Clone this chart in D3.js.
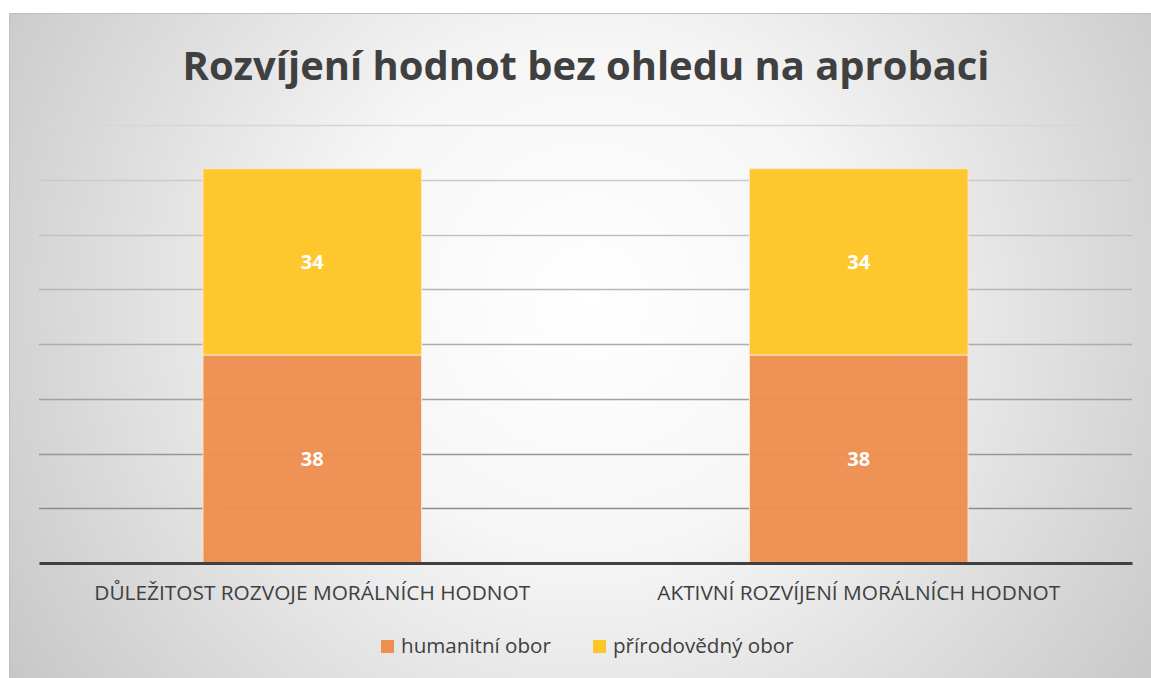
<!DOCTYPE html>
<html><head><meta charset="utf-8">
<script src="https://cdn.jsdelivr.net/npm/d3@7"></script>
<style>html,body{margin:0;padding:0;background:#fff;}svg{display:block;}</style>
</head><body>
<svg id="c" width="1151" height="678"></svg>
<script>
const title = "Rozvíjení hodnot bez ohledu na aprobaci";
const categories = ["DŮLEŽITOST ROZVOJE MORÁLNÍCH HODNOT", "AKTIVNÍ ROZVÍJENÍ MORÁLNÍCH HODNOT"];
const seriesNames = ["humanitní obor", "přírodovědný obor"];
const humanitni = [38, 38];
const prirodovedny = [34, 34];
const yTicks = [0, 10, 20, 30, 40, 50, 60, 70, 80];
const colors = ["#EE8E4F", "#FEC527"];

const svg = d3.select("#c");
const W = 1151, H = 678;
const font = "'Open Sans', 'Noto Sans', sans-serif";

const defs = svg.append("defs");
const rg = defs.append("radialGradient").attr("id", "bg")
  .attr("gradientUnits", "userSpaceOnUse")
  .attr("cx", 590).attr("cy", 300).attr("r", 720);
rg.append("stop").attr("offset", "0").attr("stop-color", "#ffffff");
rg.append("stop").attr("offset", "0.35").attr("stop-color", "#f6f6f6");
rg.append("stop").attr("offset", "1").attr("stop-color", "#c4c4c4");

svg.append("rect").attr("x", 9).attr("y", 13).attr("width", W - 9).attr("height", H - 13)
  .attr("fill", "url(#bg)");
svg.append("line").attr("x1", 9).attr("x2", W).attr("y1", 13.5).attr("y2", 13.5)
  .attr("stroke", "#c0c0c0").attr("stroke-width", 1);
svg.append("line").attr("x1", 9.5).attr("x2", 9.5).attr("y1", 13).attr("y2", H)
  .attr("stroke", "#c0c0c0").attr("stroke-width", 1);

const plot = {left: 39, right: 1132, top: 125, bottom: 563};
const y = d3.scaleLinear().domain([0, 80]).range([plot.bottom, plot.top]);
const x = d3.scaleBand().domain(categories).range([plot.left, plot.right]).padding(0);
const barW = x.bandwidth() * 0.4;

// gridlines
const gc = d3.scaleLinear().domain([80, 10]).range(["#d6d6d6", "#8c8c8c"]);
svg.append("g").selectAll("line").data(yTicks.filter(d => d > 0)).join("line")
  .attr("x1", plot.left).attr("x2", plot.right)
  .attr("y1", d => Math.round(y(d)) + 0.5).attr("y2", d => Math.round(y(d)) + 0.5)
  .attr("stroke", d => gc(d)).attr("stroke-width", 1.5);

// stacked bars
const data = categories.map((c, i) => ({cat: c, h: humanitni[i], p: prirodovedny[i]}));
const stack = d3.stack().keys(["h", "p"])(data);
const g = svg.append("g");
stack.forEach((layer, li) => {
  g.selectAll(null).data(layer).join("rect")
    .attr("x", d => x(d.data.cat) + (x.bandwidth() - barW) / 2)
    .attr("y", d => y(d[1]))
    .attr("width", barW)
    .attr("height", d => y(d[0]) - y(d[1]))
    .attr("fill", colors[li]).attr("fill-opacity", 0.97)
    .attr("stroke", "#fbe6cf").attr("stroke-width", 1);
  g.selectAll(null).data(layer).join("text")
    .attr("x", d => x(d.data.cat) + x.bandwidth() / 2)
    .attr("y", d => (y(d[0]) + y(d[1])) / 2)
    .attr("dy", "0.36em").attr("text-anchor", "middle")
    .attr("font-family", font).attr("font-weight", "bold").attr("font-size", 20)
    .attr("fill", "#ffffff")
    .text(d => d[1] - d[0]);
});

// baseline axis
const xAxis = d3.axisBottom(x).tickSize(0).tickPadding(0);
const ax = svg.append("g").attr("transform", `translate(0,${plot.bottom})`).call(xAxis);
ax.select(".domain").attr("stroke", "#404040").attr("stroke-width", 3);
ax.selectAll(".tick text").attr("y", 0).attr("dy", 0)
  .attr("font-family", font).attr("font-size", 19).attr("fill", "#404040");
const firstLbl = ax.select(".tick text").node();
const lblSize = 19 * 436 / firstLbl.getComputedTextLength();
ax.selectAll(".tick text").attr("font-size", lblSize).attr("y", 37);

// title
const t = svg.append("text").attr("x", 586).attr("y", 80).attr("text-anchor", "middle")
  .attr("font-family", font).attr("font-weight", "bold").attr("font-size", 40)
  .attr("fill", "#404040").text(title);
const tw = t.node().getComputedTextLength();
t.attr("font-size", 40 * 807 / tw);

// legend
const leg = svg.append("g");
const legItems = [{x: 381, name: seriesNames[0], c: colors[0]}, {x: 593, name: seriesNames[1], c: colors[1]}];
let legSize = 19;
legItems.forEach((it, i) => {
  leg.append("rect").attr("x", it.x).attr("y", 640).attr("width", 13).attr("height", 13)
    .attr("fill", it.c);
  const tx = leg.append("text").attr("x", it.x + 20).attr("y", 653)
    .attr("font-family", font).attr("font-size", 19).attr("fill", "#404040").text(it.name);
  if (i === 0) legSize = 19 * 150 / tx.node().getComputedTextLength();
});
leg.selectAll("text").attr("font-size", legSize);
</script>
</body></html>
